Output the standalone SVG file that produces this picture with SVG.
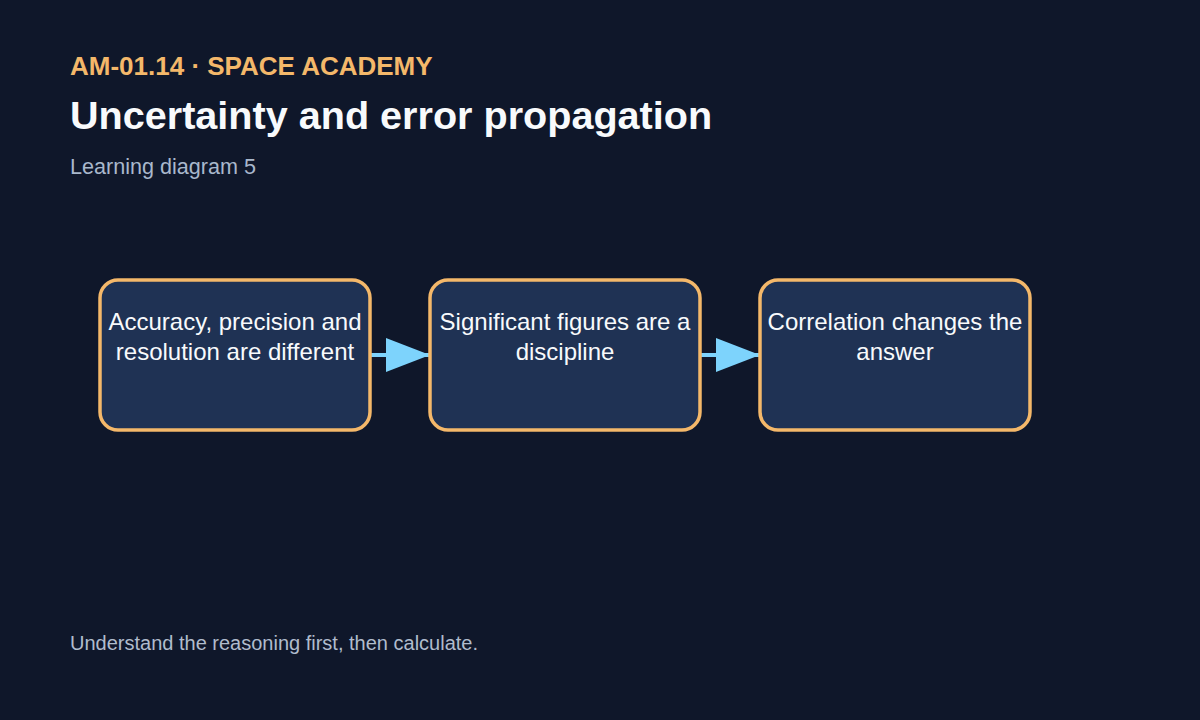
<svg xmlns="http://www.w3.org/2000/svg" width="1200" height="720" viewBox="0 0 1200 720">
<defs>
<style>
.node{fill:#1f3254;stroke:#f4b86a;stroke-width:3.5}
.nt{font-family:"Liberation Sans",Arial,sans-serif;font-size:24px;fill:#f8fafc;text-anchor:middle}
.edge{stroke:#7dd3fc;stroke-width:4;fill:none}
</style>
<marker id="ah" markerUnits="userSpaceOnUse" markerWidth="46" markerHeight="34" refX="44" refY="17" orient="auto">
<polygon points="0,0 44,17 0,34" fill="#7dd3fc"/>
</marker>
</defs>
<rect width="1200" height="720" fill="#0f172a"/>
<text x="70" y="75" font-family="Liberation Sans,Arial,sans-serif" font-size="26" font-weight="bold" fill="#f4b86a">AM-01.14 · SPACE ACADEMY</text>
<text x="70" y="129" font-family="Liberation Sans,Arial,sans-serif" font-size="39.6" font-weight="bold" fill="#f8fafc">Uncertainty and error propagation</text>
<text x="70" y="174" font-family="Liberation Sans,Arial,sans-serif" font-size="21.6" fill="#a9b8cc">Learning diagram 5</text>
<g id="connectors">
<line class="edge" x1="370" y1="355" x2="430" y2="355" marker-end="url(#ah)"/>
<line class="edge" x1="700" y1="355" x2="760" y2="355" marker-end="url(#ah)"/>
</g>
<g id="n1">
<rect class="node" x="100" y="280" width="270" height="150" rx="18"/>
<text class="nt" x="235" y="330">Accuracy, precision and</text>
<text class="nt" x="235" y="360">resolution are different</text>
</g>
<g id="n2">
<rect class="node" x="430" y="280" width="270" height="150" rx="18"/>
<text class="nt" x="565" y="330">Significant figures are a</text>
<text class="nt" x="565" y="360">discipline</text>
</g>
<g id="n3">
<rect class="node" x="760" y="280" width="270" height="150" rx="18"/>
<text class="nt" x="895" y="330">Correlation changes the</text>
<text class="nt" x="895" y="360">answer</text>
</g>
<text x="70" y="650" font-family="Liberation Sans,Arial,sans-serif" font-size="20" fill="#b0bccd">Understand the reasoning first, then calculate.</text>
</svg>
